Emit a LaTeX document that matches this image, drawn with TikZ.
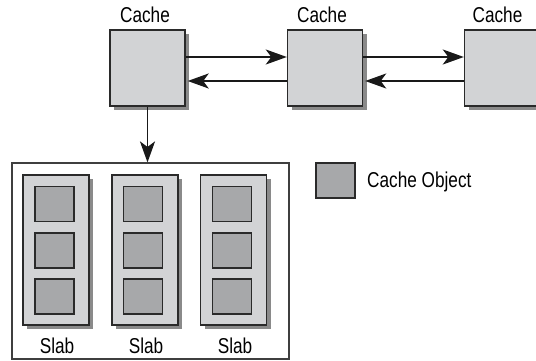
\documentclass[tikz,border=0pt]{standalone}
\usepackage{fontspec}
\setmainfont{Liberation Sans}[FakeStretch=0.8]
\usetikzlibrary{arrows.meta,shadows}
\definecolor{boxgray}{HTML}{D2D3D5}
\definecolor{objgray}{HTML}{A7A8AA}
\definecolor{shadowgray}{HTML}{8A8A8A}
\definecolor{edgegray}{HTML}{2A2A2A}
\tikzset{
  lbl/.style={font=\fontsize{21.5}{25}\selectfont, text=black, inner sep=0pt, anchor=base},
  cachebox/.style={draw=edgegray, line width=1.4pt, fill=boxgray, minimum width=75pt, minimum height=76pt, inner sep=0pt,
    drop shadow={shadow xshift=4pt, shadow yshift=-4pt, opacity=1, fill=shadowgray}},
  slabbox/.style={draw=edgegray, line width=1.3pt, fill=boxgray, minimum width=66pt, minimum height=150pt, inner sep=0pt,
    drop shadow={shadow xshift=4pt, shadow yshift=-4pt, opacity=1, fill=shadowgray}},
  objbox/.style={draw=edgegray, line width=1.2pt, fill=objgray, minimum width=39pt, minimum height=35pt, inner sep=0pt},
  outer/.style={draw=edgegray!90, line width=1.1pt, minimum width=277pt, minimum height=196pt, inner sep=0pt},
  link/.style={line width=1.9pt, draw=black!90, -{Stealth[length=21pt,width=15pt,inset=5.5pt]}}
}
\begin{document}
\begin{tikzpicture}[x=1pt,y=-1pt]
\clip (0,0) rectangle (536,361);
\fill[white] (0,0) rectangle (536,361);
% cache boxes
\node[cachebox] (b1) at (147.5,68) {};
\node[cachebox] (b2) at (325,68) {};
\node[cachebox] (b3) at (502,68) {};
\node[lbl] (l1) at (145,23) {Cache};
\node[lbl] (l2) at (322,23) {Cache};
\node[lbl] (l3) at (497.5,23) {Cache};
% links
\draw[link] ([yshift=11pt]b1.east) -- ([yshift=11pt]b2.west);
\draw[link] ([yshift=-13pt]b2.west) -- ([xshift=2pt,yshift=-13pt]b1.east);
\draw[link] ([yshift=11pt]b2.east) -- ([yshift=11pt]b3.west);
\draw[link] ([yshift=-13pt]b3.west) -- ([xshift=2pt,yshift=-13pt]b2.east);
% slab container
\node[outer] (big) at (150.5,261) {};
\draw[link] (b1.south) -- (b1.south |- big.north);
% slabs
\node[slabbox] (s1) at (56,250) {};
\node[slabbox] (s2) at (145,250) {};
\node[slabbox] (s3) at (233.5,250) {};
\node[objbox] (o11) at (54.5,204) {};
\node[objbox] (o12) at (54.5,250.5) {};
\node[objbox] (o13) at (54.5,296.5) {};
\node[objbox] (o21) at (143,204) {};
\node[objbox] (o22) at (143,250.5) {};
\node[objbox] (o23) at (143,296.5) {};
\node[objbox] (o31) at (232,204) {};
\node[objbox] (o32) at (232,250.5) {};
\node[objbox] (o33) at (232,296.5) {};
\node[lbl] (sl1) at (57,353) {Slab};
\node[lbl] (sl2) at (146,353) {Slab};
\node[lbl] (sl3) at (235,353) {Slab};
% legend
\node[objbox] (leg) at (335.5,180.5) {};
\node[lbl, anchor=base west] (legt) at (367,187) {Cache Object};
\end{tikzpicture}
\end{document}
